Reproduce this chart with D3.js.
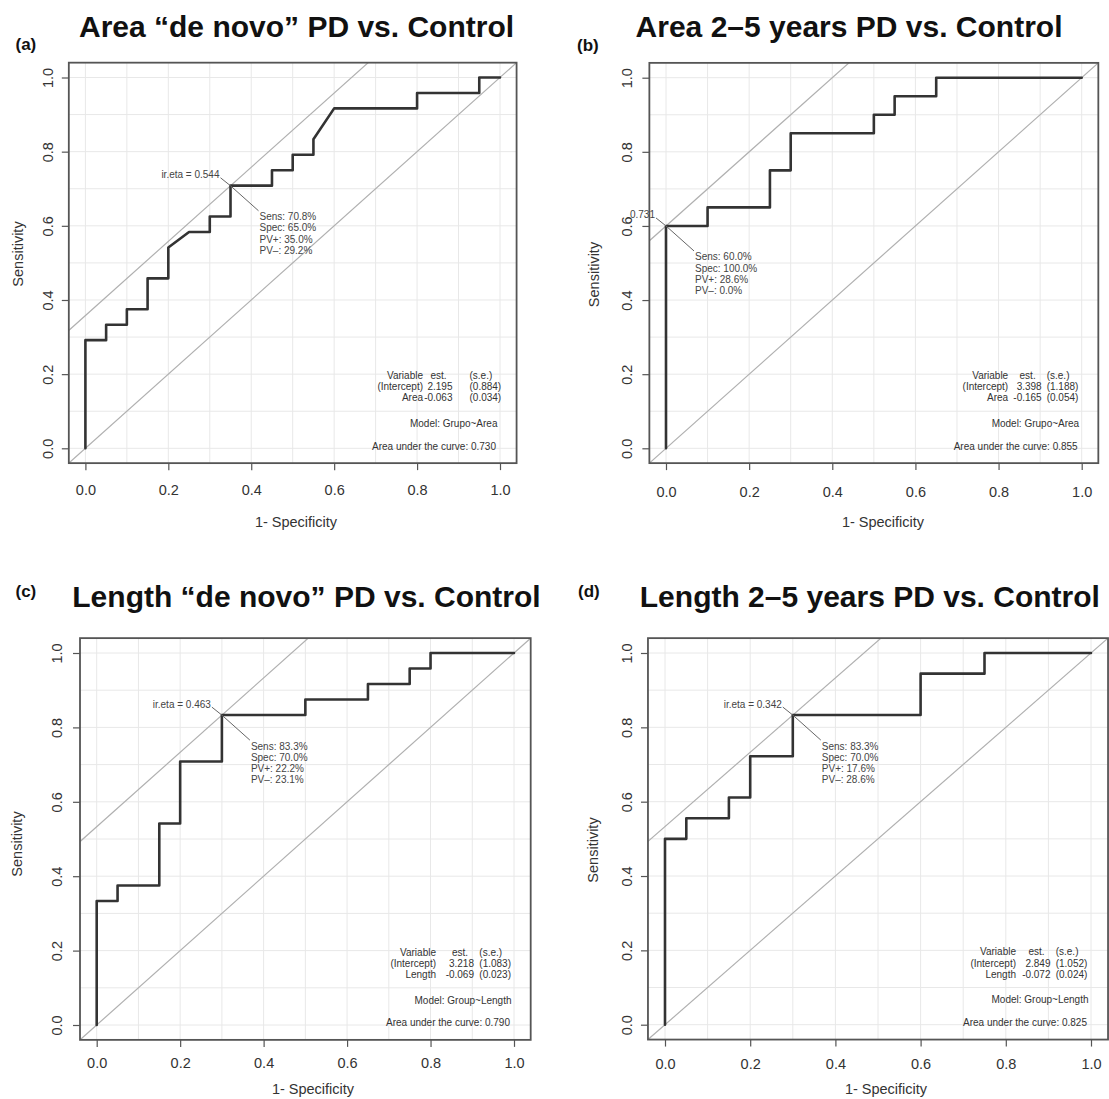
<!DOCTYPE html>
<html>
<head>
<meta charset="utf-8">
<script src="https://cdn.jsdelivr.net/npm/d3@7"></script>
<style>
  body { margin: 0; background: #fff; }
  svg { display: block; }
</style>
</head>
<body>
<svg id="fig" width="1109" height="1099"></svg>
<script>
// ---- Panel text ----
const panelTags = ["(a)", "(b)", "(c)", "(d)"];
const panelTitles = [
  "Area \u201cde novo\u201d PD vs. Control",
  "Area 2\u20135 years PD vs. Control",
  "Length \u201cde novo\u201d PD vs. Control",
  "Length 2\u20135 years PD vs. Control"
];
const xAxisTitle = "1- Specificity";
const yAxisTitle = "Sensitivity";
const axisTicks = [0, 0.2, 0.4, 0.6, 0.8, 1.0];
const gridTicks = [0, 0.1, 0.2, 0.3, 0.4, 0.5, 0.6, 0.7, 0.8, 0.9, 1.0];

// ---- ROC curves: 1-specificity (fpr) and sensitivity (tpr) ----
const fprA = [0, 0, 0.05, 0.05, 0.10, 0.10, 0.15, 0.15, 0.20, 0.20, 0.25, 0.30, 0.30, 0.35, 0.35, 0.45, 0.45, 0.50, 0.50, 0.55, 0.55, 0.60, 0.80, 0.80, 0.95, 0.95, 1.00];
const tprA = [0, 0.2917, 0.2917, 0.3333, 0.3333, 0.375, 0.375, 0.4583, 0.4583, 0.5417, 0.5833, 0.5833, 0.625, 0.625, 0.7083, 0.7083, 0.75, 0.75, 0.7917, 0.7917, 0.8333, 0.9167, 0.9167, 0.9583, 0.9583, 1.0, 1.0];

const fprB = [0, 0, 0.10, 0.10, 0.25, 0.25, 0.30, 0.30, 0.50, 0.50, 0.55, 0.55, 0.65, 0.65, 1.00];
const tprB = [0, 0.60, 0.60, 0.65, 0.65, 0.75, 0.75, 0.85, 0.85, 0.90, 0.90, 0.95, 0.95, 1.00, 1.00];

const fprC = [0, 0, 0.05, 0.05, 0.15, 0.15, 0.20, 0.20, 0.30, 0.30, 0.50, 0.50, 0.65, 0.65, 0.75, 0.75, 0.80, 0.80, 1.00];
const tprC = [0, 0.3333, 0.3333, 0.375, 0.375, 0.5417, 0.5417, 0.7083, 0.7083, 0.8333, 0.8333, 0.875, 0.875, 0.9167, 0.9167, 0.9583, 0.9583, 1.0, 1.0];

const fprD = [0, 0, 0.05, 0.05, 0.15, 0.15, 0.20, 0.20, 0.30, 0.30, 0.60, 0.60, 0.75, 0.75, 1.00];
const tprD = [0, 0.5, 0.5, 0.5556, 0.5556, 0.6111, 0.6111, 0.7222, 0.7222, 0.8333, 0.8333, 0.9444, 0.9444, 1.0, 1.0];

// ---- Optimal cut-off statistics (percent) ----
const sensPct = [70.8, 60.0, 83.3, 83.3];
const specPct = [65.0, 100.0, 70.0, 70.0];
const pvPosPct = [35.0, 28.6, 22.2, 17.6];
const pvNegPct = [29.2, 0.0, 23.1, 28.6];
const etaLabels = ["ir.eta = 0.544", "0.731", "ir.eta = 0.463", "ir.eta = 0.342"];

// ---- Logistic model summaries ----
const predictorNames = ["Area", "Area", "Length", "Length"];
const interceptEst = [2.195, 3.398, 3.218, 2.849];
const interceptSE = [0.884, 1.188, 1.083, 1.052];
const slopeEst = [-0.063, -0.165, -0.069, -0.072];
const slopeSE = [0.034, 0.054, 0.023, 0.024];
const modelFormulas = ["Grupo~Area", "Grupo~Area", "Group~Length", "Group~Length"];
const aucValues = [0.730, 0.855, 0.790, 0.825];

// ---- Page layout for the four panels ----
const layouts = [
  { x0: 85.4, x1: 500,   y0: 448.3,  y1: 77.5, xtickY: 489.5, xlabX: 296, xlabY: 522,    ytickX: 48.2,  ylabX: 18,    ylabY: 254,
    titleX: 79,    titleY: 37,    tagX: 15.5, tagY: 49.5, cols: [-77, -47.5, -30.5] },
  { x0: 666,  x1: 1081.7, y0: 448.3, y1: 77.7, xtickY: 492,   xlabX: 883, xlabY: 521.5,  ytickX: 626.7, ylabX: 593.5, ylabY: 274.5,
    titleX: 635.6, titleY: 37.4,  tagX: 577,  tagY: 51,   cols: [-73.5, -40, -35] },
  { x0: 96.7, x1: 514,   y0: 1025,   y1: 653,  xtickY: 1063,  xlabX: 313, xlabY: 1088.5, ytickX: 56.7,  ylabX: 17.2,  ylabY: 844,
    titleX: 72.3,  titleY: 607,   tagX: 15.5, tagY: 597,  cols: [-78, -40, -34.7] },
  { x0: 665,  x1: 1091,  y0: 1024.7, y1: 653,  xtickY: 1064,  xlabX: 886, xlabY: 1088.5, ytickX: 626.7, ylabX: 593,   ylabY: 850,
    titleX: 639.8, titleY: 607.4, tagX: 578,  tagY: 597,  cols: [-75, -40.5, -35.3] }
];

const curves = [[fprA, tprA], [fprB, tprB], [fprC, tprC], [fprD, tprD]];

const FONT = '"Liberation Sans", Arial, Helvetica, sans-serif';
// numbers printed with a plain hyphen as minus sign
const locale = d3.formatLocale({ decimal: ".", thousands: ",", grouping: [3], currency: ["", ""], minus: "-" });
const fmt3 = locale.format(".3f");
const fmt1 = locale.format(".1f");
const svg = d3.select("#fig").attr("font-family", FONT);
const defs = svg.append("defs");

layouts.forEach((L, i) => {
  const x = d3.scaleLinear().domain([0, 1]).range([L.x0, L.x1]);
  const y = d3.scaleLinear().domain([0, 1]).range([L.y0, L.y1]);
  const bx0 = x(-0.04), bx1 = x(1.04), by0 = y(-0.04), by1 = y(1.04);

  const g = svg.append("g");

  // clip region = plot box
  const clipId = "plotclip" + i;
  defs.append("clipPath").attr("id", clipId)
    .append("rect").attr("x", bx0).attr("y", by1).attr("width", bx1 - bx0).attr("height", by0 - by1);

  const plot = g.append("g").attr("clip-path", `url(#${clipId})`);

  // light grid every 0.1
  plot.append("g").selectAll("line").data(gridTicks).join("line")
    .attr("x1", d => x(d)).attr("x2", d => x(d)).attr("y1", by1).attr("y2", by0)
    .attr("stroke", "#e8e8e8").attr("stroke-width", 1);
  plot.append("g").selectAll("line").data(gridTicks).join("line")
    .attr("y1", d => y(d)).attr("y2", d => y(d)).attr("x1", bx0).attr("x2", bx1)
    .attr("stroke", "#e8e8e8").attr("stroke-width", 1);

  // chance diagonal and the 45-degree line through the optimal cut-off
  const seg = d3.line().x(d => x(d[0])).y(d => y(d[1]));
  const optX = 1 - specPct[i] / 100;
  const optY = sensPct[i] / 100;
  const icpt = optY - optX;
  plot.append("path").attr("d", seg([[-0.2, -0.2], [1.2, 1.2]]))
    .attr("fill", "none").attr("stroke", "#b0b0b0").attr("stroke-width", 1.2);
  plot.append("path").attr("d", seg([[-0.2, -0.2 + icpt], [1.2, 1.2 + icpt]]))
    .attr("fill", "none").attr("stroke", "#b0b0b0").attr("stroke-width", 1.2);

  // ROC curve
  const [fpr, tpr] = curves[i];
  g.append("path").datum(d3.zip(fpr, tpr)).attr("d", seg)
    .attr("fill", "none").attr("stroke", "#333").attr("stroke-width", 2.6)
    .attr("stroke-linejoin", "round").attr("stroke-linecap", "round");

  // plot box
  g.append("rect").attr("x", bx0).attr("y", by1).attr("width", bx1 - bx0).attr("height", by0 - by1)
    .attr("fill", "none").attr("stroke", "#555").attr("stroke-width", 1.8);

  // axes
  const gx = g.append("g").attr("transform", `translate(0,${by0})`)
    .call(d3.axisBottom(x).tickValues(axisTicks).tickFormat(fmt1).tickSize(7).tickSizeOuter(0));
  gx.select(".domain").remove();
  gx.attr("font-family", FONT).attr("font-size", 14.5);
  gx.selectAll(".tick line").attr("stroke", "#555").attr("stroke-width", 1.2);
  gx.selectAll(".tick text").attr("y", L.xtickY - by0).attr("dy", "0.35em").attr("fill", "#333");

  const gy = g.append("g").attr("transform", `translate(${bx0},0)`)
    .call(d3.axisLeft(y).tickValues(axisTicks).tickFormat(fmt1).tickSize(7).tickSizeOuter(0));
  gy.select(".domain").remove();
  gy.attr("font-family", FONT).attr("font-size", 14.5);
  gy.selectAll(".tick line").attr("stroke", "#555").attr("stroke-width", 1.2);
  gy.selectAll(".tick text")
    .attr("x", null).attr("dy", "0.35em").attr("text-anchor", "middle").attr("fill", "#333")
    .attr("transform", `translate(${L.ytickX - bx0},0) rotate(-90)`);

  // axis titles
  g.append("text").attr("x", L.xlabX).attr("y", L.xlabY).attr("dy", "0.35em")
    .attr("text-anchor", "middle").attr("font-size", 14.5).attr("fill", "#333").text(xAxisTitle);
  g.append("text").attr("transform", `translate(${L.ylabX},${L.ylabY}) rotate(-90)`).attr("dy", "0.35em")
    .attr("text-anchor", "middle").attr("font-size", 14.5).attr("fill", "#333").text(yAxisTitle);

  // panel tag and title
  svg.append("text").attr("x", L.tagX).attr("y", L.tagY).attr("font-size", 17).attr("font-weight", "bold")
    .attr("fill", "#111").text(panelTags[i]);
  svg.append("text").attr("x", L.titleX).attr("y", L.titleY).attr("font-size", 30).attr("font-weight", "bold")
    .attr("fill", "#111").text(panelTitles[i]);

  // optimal cut-off annotation
  const px = x(optX), py = y(optY);
  const ann = g.append("g").attr("font-size", 10).attr("fill", "#444");
  ann.append("line").attr("x1", px).attr("y1", py).attr("x2", px - 10).attr("y2", py - 8)
    .attr("stroke", "#666").attr("stroke-width", 1);
  ann.append("line").attr("x1", px).attr("y1", py).attr("x2", px + 28).attr("y2", py + 25)
    .attr("stroke", "#666").attr("stroke-width", 1);
  ann.append("text").attr("x", px - 11).attr("y", py - 11).attr("dy", "0.35em")
    .attr("text-anchor", "end").text(etaLabels[i]);
  const statLines = [
    "Sens: " + fmt1(sensPct[i]) + "%",
    "Spec: " + fmt1(specPct[i]) + "%",
    "PV+: " + fmt1(pvPosPct[i]) + "%",
    "PV\u2013: " + fmt1(pvNegPct[i]) + "%"
  ];
  ann.selectAll("text.stat").data(statLines).join("text").attr("class", "stat")
    .attr("x", px + 29).attr("y", (d, k) => py + 31 + k * 11.2).attr("dy", "0.35em").text(d => d);

  // model summary block (bottom right)
  const rx = x(1);
  const blk = g.append("g").attr("font-size", 10).attr("fill", "#333");
  const rowY = [y(0) - 73, y(0) - 61.7, y(0) - 50.5];
  const rows = [
    ["Variable", "est.", "(s.e.)"],
    ["(Intercept)", fmt3(interceptEst[i]), "(" + fmt3(interceptSE[i]) + ")"],
    [predictorNames[i], fmt3(slopeEst[i]), "(" + fmt3(slopeSE[i]) + ")"]
  ];
  rows.forEach((r, k) => {
    blk.append("text").attr("x", rx + L.cols[0]).attr("y", rowY[k]).attr("dy", "0.35em")
      .attr("text-anchor", "end").text(r[0]);
    blk.append("text").attr("x", rx + L.cols[1] - (k === 0 ? 6 : 0)).attr("y", rowY[k]).attr("dy", "0.35em")
      .attr("text-anchor", "end").text(r[1]);
    blk.append("text").attr("x", rx + L.cols[2]).attr("y", rowY[k]).attr("dy", "0.35em")
      .attr("text-anchor", "start").text(r[2]);
  });
  blk.append("text").attr("x", rx - 2.5).attr("y", y(0) - 24.8).attr("dy", "0.35em")
    .attr("text-anchor", "end").text("Model: " + modelFormulas[i]);
  blk.append("text").attr("x", rx - 4).attr("y", y(0) - 2.1).attr("dy", "0.35em")
    .attr("text-anchor", "end").text("Area under the curve: " + fmt3(aucValues[i]));
});
</script>
</body>
</html>
